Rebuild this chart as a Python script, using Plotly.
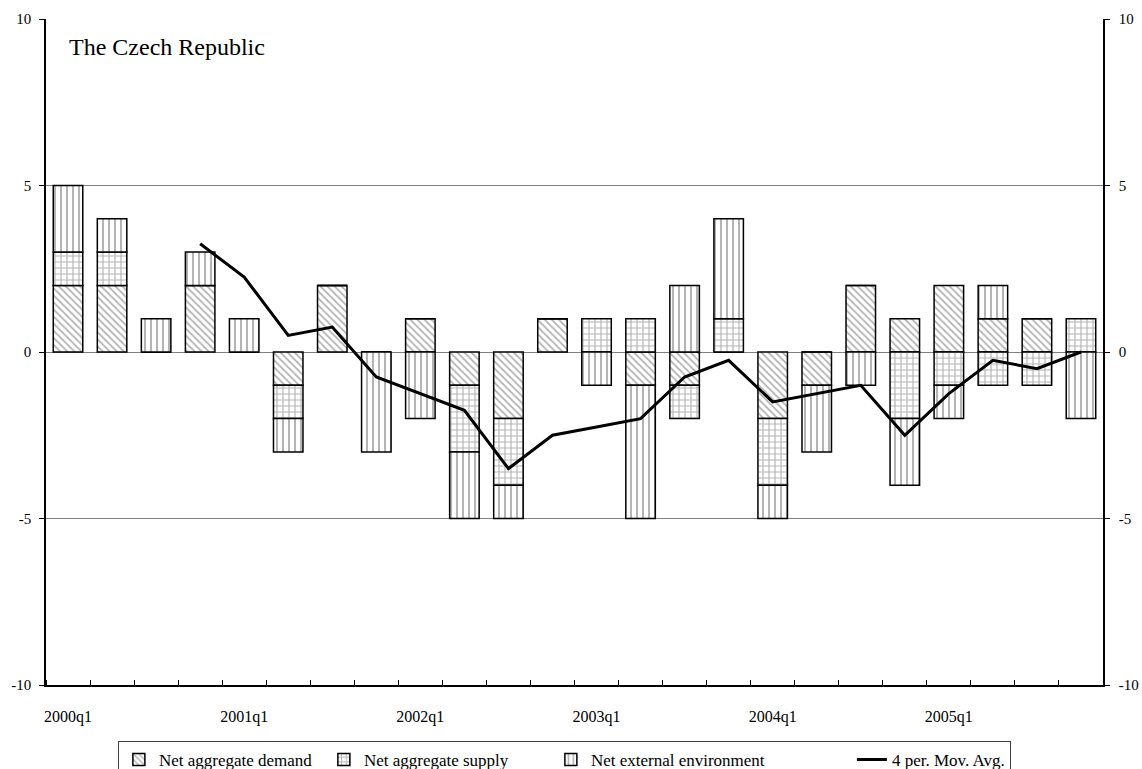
import plotly.graph_objects as go

quarters = [f"{y}q{q}" for y in range(2000, 2006) for q in range(1, 5)]
tick_labels = ["2000q1", "2001q1", "2002q1", "2003q1", "2004q1", "2005q1"]
y_ticks = [-10, -5, 0, 5, 10]
y_tick_text = ["-10", "-5", "0", "5", "10"]

demand = [2, 2, 0, 2, 0, -1, 2, 0, 1, -1, -2, 1,
          0, -1, -1, 0, -2, -1, 2, 1, 2, 1, 1, 0]
supply = [1, 1, 0, 0, 0, -1, 0, 0, 0, -2, -2, 0,
          1, 1, -1, 1, -2, 0, 0, -2, -1, -1, -1, 1]
external = [2, 1, 1, 1, 1, -1, 0, -3, -2, -2, -1, 0,
            -1, -4, 2, 3, -1, -2, -1, -2, -1, 1, 0, -2]
mov_avg = [None, None, None, 3.25, 2.25, 0.5, 0.75, -0.75, -1.25, -1.75, -3.5, -2.5,
           -2.25, -2.0, -0.75, -0.25, -1.5, -1.25, -1.0, -2.5, -1.25, -0.25, -0.5, 0.0]

xpos = list(range(len(quarters)))
tick_pos = [quarters.index(t) for t in tick_labels]

FONT = "Liberation Serif, Times New Roman, serif"

fig = go.Figure()

def bar(name, vals, shape, size, width):
    return go.Bar(
        x=xpos, y=vals, name=name, customdata=quarters,
        marker=dict(color="white",
                    line=dict(color="black", width=1.5),
                    pattern=dict(shape=shape, fgcolor="#6a6a6a", bgcolor="white",
                                 size=size, solidity=0.35)),
        legendwidth=width,
    )

fig.add_trace(bar("Net aggregate demand", demand, "\\", 5, 160))
fig.add_trace(bar("Net aggregate supply", supply, "+", 6, 182))
fig.add_trace(bar("Net external environment", external, "|", 6, 256))
fig.add_trace(go.Scatter(
    x=xpos, y=mov_avg, name="4 per. Mov. Avg.", mode="lines",
    line=dict(color="black", width=3), yaxis="y2", connectgaps=False,
))

fig.update_layout(
    width=1142, height=769,
    paper_bgcolor="white", plot_bgcolor="white",
    margin=dict(l=46, r=39, t=19, b=84, autoexpand=False),
    barmode="relative", bargap=0.33,
    font=dict(family=FONT, color="black"),
    xaxis=dict(
        range=[-0.5, 23.5], tickmode="array", tickvals=tick_pos, ticktext=tick_labels,
        ticks="", showgrid=False, zeroline=False, showline=True,
        linecolor="black", linewidth=1.5,
        tickfont=dict(size=16, family=FONT), ticklabelstandoff=16,
        minor=dict(tick0=0.5, dtick=1, ticks="inside", ticklen=5,
                   tickcolor="black", tickwidth=1, showgrid=False),
    ),
    yaxis=dict(
        range=[-10, 10], tickmode="array", tickvals=y_ticks, ticktext=y_tick_text,
        showgrid=True, gridcolor="#808080", gridwidth=1,
        zeroline=True, zerolinecolor="#808080", zerolinewidth=1,
        showline=True, linecolor="black", linewidth=1.5,
        ticks="outside", ticklen=5, tickcolor="black",
        tickfont=dict(size=15, family=FONT), ticklabelstandoff=5,
    ),
    yaxis2=dict(
        range=[-10, 10], tickmode="array", tickvals=y_ticks, ticktext=y_tick_text,
        overlaying="y", side="right", showgrid=False, zeroline=False,
        showline=True, linecolor="black", linewidth=1.5,
        ticks="outside", ticklen=5, tickcolor="black",
        tickfont=dict(size=15, family=FONT), ticklabelstandoff=6,
    ),
    legend=dict(
        orientation="h", x=0.068, xanchor="left", y=-0.084, yanchor="top",
        bordercolor="#404040", borderwidth=1, bgcolor="white",
        font=dict(size=17, family=FONT), itemwidth=30,
        tracegroupgap=0, traceorder="normal", valign="top",
    ),
    annotations=[dict(
        text="The Czech Republic", xref="paper", yref="y", x=0.02, y=9.15,
        xanchor="left", yanchor="middle", showarrow=False,
        font=dict(size=24, family=FONT, color="black"),
    )],
    showlegend=True,
)

fig.write_html(
    "out.html",
    config={"displayModeBar": False},
    post_script="document.body.style.margin='0';document.body.style.overflow='hidden';",
)
